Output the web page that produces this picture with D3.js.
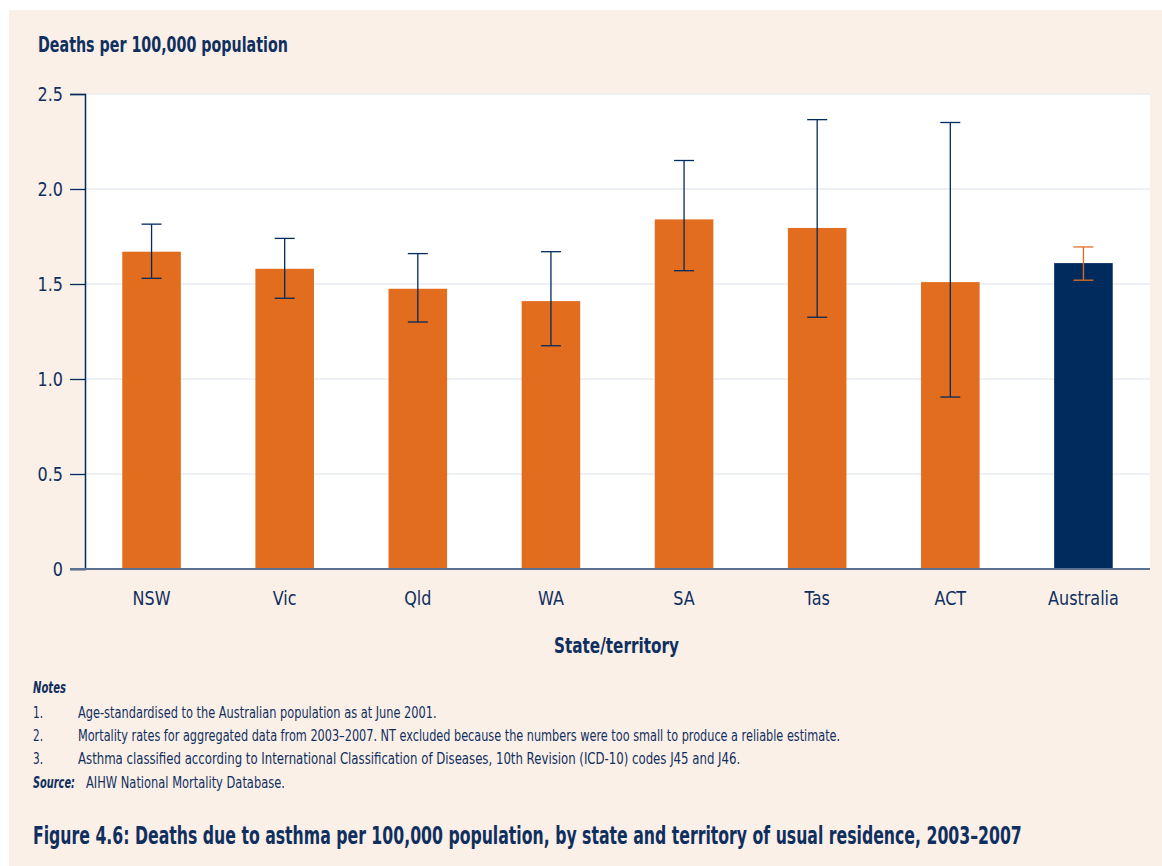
<!DOCTYPE html>
<html>
<head>
<meta charset="utf-8">
<script src="https://cdn.jsdelivr.net/npm/d3@7"></script>
<style>
  body { margin: 0; background: #fff; }
  svg text { font-family: "DejaVu Sans", sans-serif; fill: #0f2f5e; }
</style>
</head>
<body>
<svg id="chart" width="1162" height="866"></svg>
<script>
const states = ["NSW", "Vic", "Qld", "WA", "SA", "Tas", "ACT", "Australia"];
const rates = [1.67, 1.58, 1.475, 1.41, 1.84, 1.795, 1.51, 1.61];
const lower = [1.53, 1.425, 1.3, 1.175, 1.57, 1.325, 0.905, 1.52];
const upper = [1.815, 1.74, 1.66, 1.67, 2.15, 2.365, 2.35, 1.695];
const yTicks = [0, 0.5, 1.0, 1.5, 2.0, 2.5];
const notes = [
  "Age-standardised to the Australian population as at June 2001.",
  "Mortality rates for aggregated data from 2003\u20132007. NT excluded because the numbers were too small to produce a reliable estimate.",
  "Asthma classified according to International Classification of Diseases, 10th Revision (ICD-10) codes J45 and J46."
];
const noteWidths = [359, 763, 663];

const orange = "#e36d1f";
const navy = "#002b5c";
const margin = { left: 85, right: 12, top: 94, bottom: 297 };
const width = 1162 - margin.left - margin.right;
const height = 866 - margin.top - margin.bottom;

const data = states.map((s, i) => ({ state: s, rate: rates[i], lo: lower[i], hi: upper[i] }));

const svg = d3.select("#chart");
svg.append("rect").attr("x", 9).attr("y", 10).attr("width", 1153).attr("height", 856).attr("fill", "#fbf0e8");

const g = svg.append("g").attr("transform", `translate(${margin.left},${margin.top})`);
g.append("rect").attr("width", width).attr("height", height).attr("fill", "#fff");

const x = d3.scaleBand().domain(states).range([0, width]).paddingInner(0.56).paddingOuter(0.28);
const y = d3.scaleLinear().domain([0, 2.5]).range([height, 0]);

g.selectAll(".grid")
  .data(yTicks.filter(t => t > 0))
  .enter()
  .append("line")
  .attr("x1", 0).attr("x2", width)
  .attr("y1", d => y(d)).attr("y2", d => y(d))
  .attr("stroke", "#dce2ea").attr("stroke-width", 1.2);

g.selectAll(".bar")
  .data(data)
  .enter()
  .append("rect")
  .attr("x", d => x(d.state))
  .attr("width", x.bandwidth())
  .attr("y", d => y(d.rate))
  .attr("height", d => height - y(d.rate))
  .attr("fill", d => d.state === "Australia" ? navy : orange);

const err = g.selectAll(".err").data(data).enter().append("g")
  .attr("stroke", d => d.state === "Australia" ? orange : navy)
  .attr("stroke-width", 1.3);
const cx = d => x(d.state) + x.bandwidth() / 2;
err.append("line").attr("x1", cx).attr("x2", cx).attr("y1", d => y(d.hi)).attr("y2", d => y(d.lo));
err.append("line").attr("x1", d => cx(d) - 10).attr("x2", d => cx(d) + 10).attr("y1", d => y(d.hi)).attr("y2", d => y(d.hi));
err.append("line").attr("x1", d => cx(d) - 10).attr("x2", d => cx(d) + 10).attr("y1", d => y(d.lo)).attr("y2", d => y(d.lo));

const yAxis = g.append("g")
  .call(d3.axisLeft(y).tickValues(yTicks).tickSize(15).tickPadding(8)
    .tickFormat(d => d === 0 ? "0" : d3.format(".1f")(d)));
yAxis.select(".domain").attr("stroke", navy).attr("stroke-width", 1.5);
yAxis.selectAll(".tick line").attr("stroke", navy).attr("stroke-width", 1.3);
yAxis.selectAll(".tick text").attr("font-size", 20).style("fill", "#0f2f5e")
  .attr("x", 0).attr("transform", "translate(-22,0) scale(0.8,1)");

g.append("line").attr("x1", -15).attr("x2", width).attr("y1", height).attr("y2", height)
  .attr("stroke", "#5b7191").attr("stroke-width", 2);

const xAxis = g.append("g").attr("transform", `translate(0,${height})`)
  .call(d3.axisBottom(x).tickSize(0).tickPadding(22));
xAxis.select(".domain").remove();
xAxis.selectAll(".tick text").attr("font-size", 20).style("fill", "#0f2f5e")
  .attr("transform", "scale(0.8,1)");

// squeeze a text horizontally to the width it has in the reference
const place = (sel, px, py, len) => {
  const natural = sel.node().getComputedTextLength();
  sel.attr("x", 0).attr("y", 0)
    .attr("transform", `translate(${px},${py}) scale(${len / natural},1)`);
  return sel;
};

place(svg.append("text").attr("font-size", 22).attr("font-weight", "bold")
  .text("Deaths per 100,000 population"), 38, 52, 250);
place(svg.append("text").attr("font-size", 22).attr("font-weight", "bold")
  .text("State/territory"), 554, 653, 125);

place(svg.append("text").attr("font-size", 16).attr("font-weight", "bold")
  .attr("font-style", "italic").text("Notes"), 33, 693, 33);
notes.forEach((n, i) => {
  place(svg.append("text").attr("font-size", 16).text(`${i + 1}.`), 33, 718 + i * 23, 10);
  place(svg.append("text").attr("font-size", 16).text(n), 78, 718 + i * 23, noteWidths[i]);
});
place(svg.append("text").attr("font-size", 16).attr("font-weight", "bold")
  .attr("font-style", "italic").text("Source:"), 33, 788, 42);
place(svg.append("text").attr("font-size", 16).text("AIHW National Mortality Database."), 86, 788, 199);

place(svg.append("text").attr("font-size", 25).attr("font-weight", "bold")
  .text("Figure 4.6: Deaths due to asthma per 100,000 population, by state and territory of usual residence, 2003\u20132007"), 33, 844, 989);
</script>
</body>
</html>
